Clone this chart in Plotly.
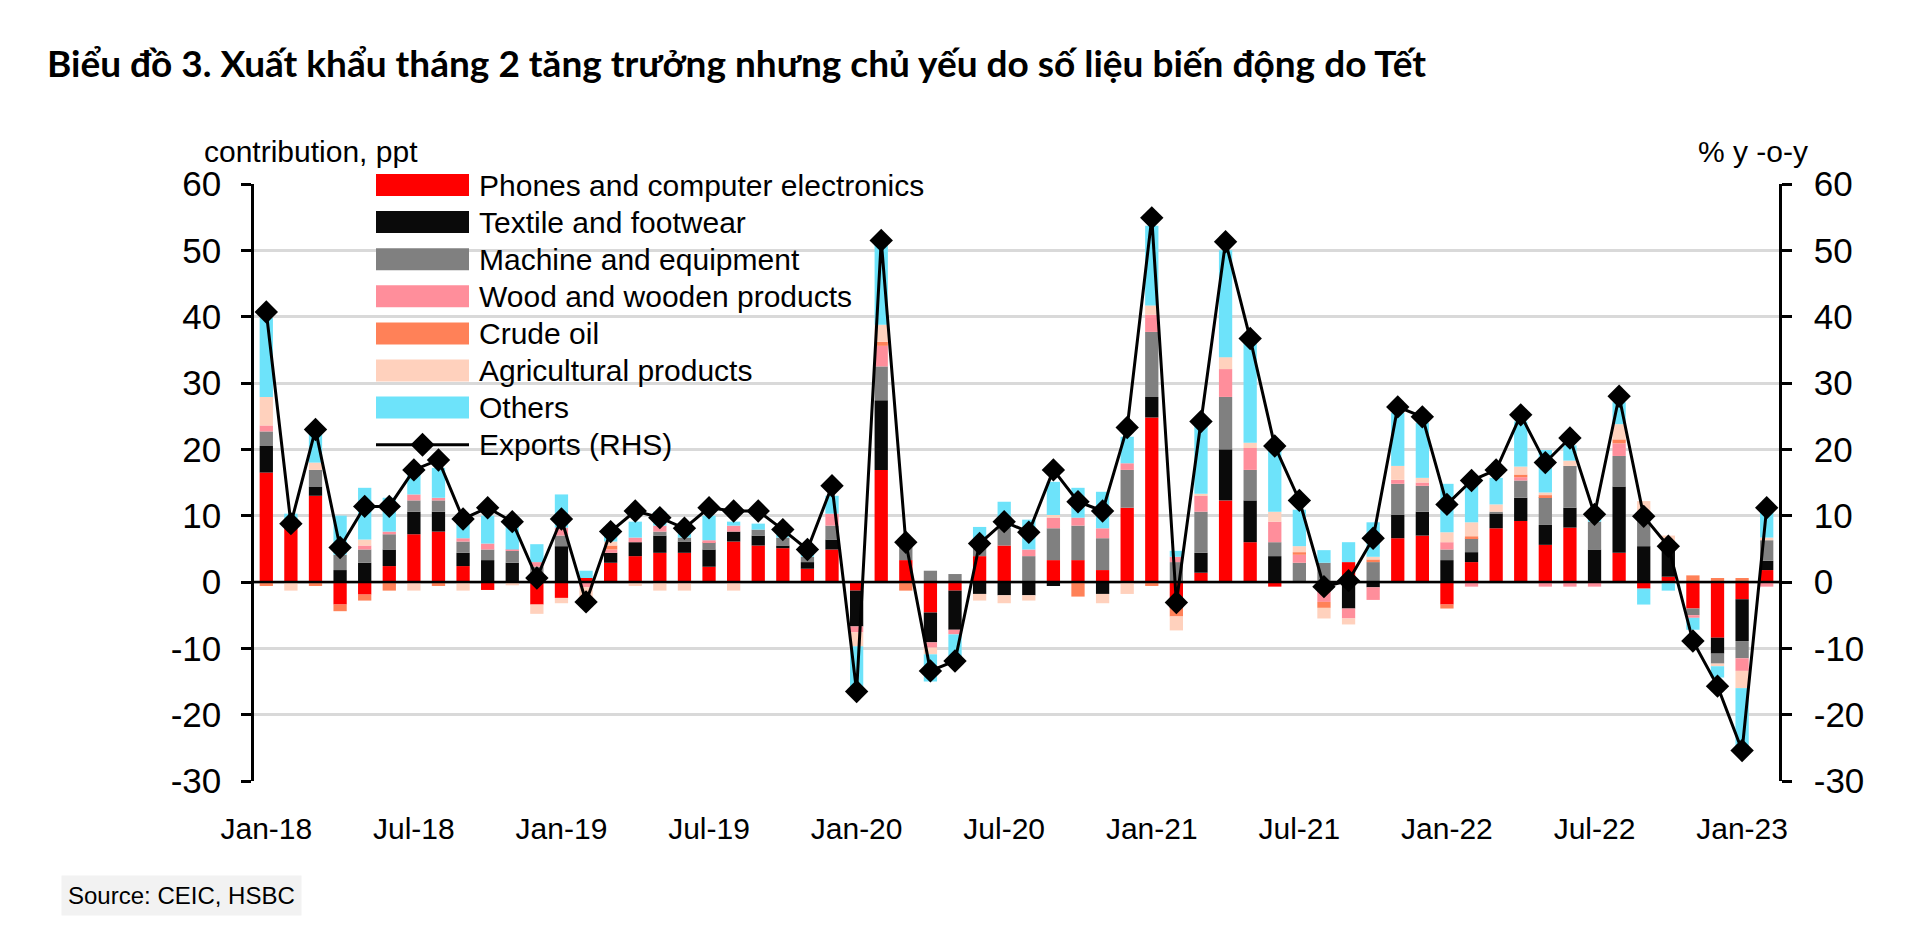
import plotly.graph_objects as go

months = ["Jan-18","Feb-18","Mar-18","Apr-18","May-18","Jun-18","Jul-18","Aug-18","Sep-18","Oct-18","Nov-18","Dec-18",
          "Jan-19","Feb-19","Mar-19","Apr-19","May-19","Jun-19","Jul-19","Aug-19","Sep-19","Oct-19","Nov-19","Dec-19",
          "Jan-20","Feb-20","Mar-20","Apr-20","May-20","Jun-20","Jul-20","Aug-20","Sep-20","Oct-20","Nov-20","Dec-20",
          "Jan-21","Feb-21","Mar-21","Apr-21","May-21","Jun-21","Jul-21","Aug-21","Sep-21","Oct-21","Nov-21","Dec-21",
          "Jan-22","Feb-22","Mar-22","Apr-22","May-22","Jun-22","Jul-22","Aug-22","Sep-22","Oct-22","Nov-22","Dec-22",
          "Jan-23","Feb-23"]

tick_labels = ["Jan-18","Jul-18","Jan-19","Jul-19","Jan-20","Jul-20","Jan-21","Jul-21","Jan-22","Jul-22","Jan-23"]
y_tick_vals = [-30, -20, -10, 0, 10, 20, 30, 40, 50, 60]
y_tick_text = ["-30", "-20", "-10", "0", "10", "20", "30", "40", "50", "60"]

phones = [16.5, 8.5, 13.0, -3.4, -1.9, 2.4, 7.2, 7.6, 2.4, -1.2, 0, -3.4,
          -2.4, 0.6, 2.9, 3.9, 4.4, 4.4, 2.3, 6.1, 5.5, 5.1, 2.0, 4.9,
          -1.3, 16.9, 3.3, -4.6, -1.3, 3.9, 5.5, 0, 3.3, 3.3, 1.8, 11.2,
          24.8, -4.0, 1.4, 12.3, 6.0, -0.7, 0, 0, 3.0, 0, 6.6, 7.0,
          -3.4, 3.0, 8.1, 9.2, 5.6, 8.2, 0, 4.4, -1.0, 0.8, -4.0, -8.4,
          -2.6, 1.8]

textile = [4.0, 0, 1.4, 1.8, 2.9, 2.5, 3.4, 3.0, 2.0, 3.3, 2.9, 0.8,
           5.4, 0, 1.5, 2.1, 2.6, 1.7, 2.6, 1.5, 1.5, 0.4, 1.0, 1.5,
           -5.4, 10.5, 0, -4.5, -5.9, -1.8, -2.0, -2.0, -0.6, 0, -1.8, 0,
           3.1, 0, 3.0, 7.7, 6.3, 3.9, 0, 0, -4.0, -0.8, 3.5, 3.6,
           3.3, 1.5, 2.2, 3.5, 3.0, 3.0, 4.9, 10.0, 5.4, 4.6, 0, -2.4,
           -6.3, 1.4]

machine = [2.2, 0, 2.5, 2.3, 2.0, 2.3, 1.7, 1.7, 1.7, 1.6, 1.8, 1.5,
           1.6, 0, 0, 0, 0.6, 0.6, 1.1, 0, 0.9, 1.2, 0.8, 2.1,
           0, 5.1, 2.5, 1.7, 1.2, 1.3, 2.7, 3.9, 4.8, 5.2, 4.8, 5.7,
           9.8, 3.0, 6.2, 7.9, 4.6, 2.1, 2.9, 2.9, 0, 3.0, 4.7, 3.9,
           1.6, 2.1, 0.3, 2.6, 4.2, 6.3, 4.2, 4.6, 4.0, 0, -1.0, -1.5,
           -2.6, 3.1]

wood = [0.9, 0, 0, 0, 0.6, 0.4, 0.9, 0.4, 0.5, 0.9, 0.2, 0.7,
        1.2, -0.8, 0.5, 0.7, 0.9, 0, 0.3, 0.9, 0, 0, 0, 1.8,
        -0.9, 3.1, 0, -0.8, -0.7, 0, 0, 1.0, 1.6, 1.2, 1.5, 1.0,
        2.6, 0.8, 2.4, 4.2, 3.3, 3.1, 1.2, -3.0, -1.5, -1.9, 0.6, 0.5,
        1.1, -0.7, 0, 0.5, -0.7, -0.7, -0.7, 1.9, 0.4, 0, -0.4, 0,
        -1.9, -0.7]

crude = [-0.6, 0, -0.6, -1.0, -0.9, -1.3, 0, -0.6, 0, 0, 0, 0,
         0, 0, 0.6, 0, 0, 0, 0, 0, 0, 0, 0, 0,
         0, 0.6, -1.3, 0, 0, 0, 0, 0, 0, -2.2, 0, 0,
         -0.6, -1.2, 0, 0, 0, 0, 0.4, -0.9, 0, 0.4, 0, 0,
         -0.6, 0.3, 0, 0.4, 0.3, 0, 0, 0.6, 0, 0, 1.0, 0.6,
         0.6, 0]

agri = [4.3, -1.3, 1.1, 0, 0.9, 0, -1.3, 0, -1.3, 0, -0.5, -1.4,
        -0.8, -2.5, 0.6, -0.6, -1.3, -1.3, 0, -1.3, 0, 0, 0, 0,
        -2.1, 2.6, 0, -1.0, 0, -1.0, -1.2, -0.8, 0.4, 0, -1.4, -1.8,
        1.4, -2.1, 0.3, 1.8, 0.8, 1.5, 0.9, -1.6, -0.9, 0.4, 2.1, 0.7,
        1.5, 2.1, 1.1, 1.2, 0.4, 0.8, 0, 2.3, 2.4, 1.6, 0, -0.4,
        -2.6, 0.4]

others = [11.9, 1.8, 4.5, 5.9, 7.8, 5.1, 3.4, 4.5, 3.1, 4.2, 3.9, 2.7,
          5.0, 1.1, 1.5, 2.4, 2.1, 0.6, 3.7, 0.6, 0.9, 0.5, 0.6, 2.7,
          -6.2, 12.0, 0.9, -4.1, -3.5, 3.1, 3.9, 4.5, 5.0, 4.5, 5.5, 4.0,
          12.0, 0.9, 10.7, 16.1, 15.3, 10.0, 5.5, 1.9, 3.0, 5.2, 8.0, 8.3,
          7.3, 6.4, 4.0, 6.8, 6.4, 2.3, 0.9, 3.3, -2.4, -1.3, -1.8, -1.7,
          -9.0, 4.2]

exports = [40.7, 8.8, 23.0, 5.2, 11.4, 11.4, 16.9, 18.4, 9.5, 11.2, 9.1, 0.6,
           9.5, -3.0, 7.6, 10.7, 9.7, 8.1, 11.2, 10.7, 10.7, 7.9, 4.9, 14.5,
           -16.5, 51.5, 6.0, -13.4, -11.9, 5.8, 9.1, 7.5, 16.9, 12.1, 10.7, 23.3,
           54.9, -3.1, 24.2, 51.3, 36.7, 20.5, 12.3, -0.7, 0.2, 6.6, 26.4, 24.9,
           11.7, 15.3, 16.9, 25.2, 18.0, 21.7, 10.2, 28.0, 9.9, 5.4, -8.9, -15.7,
           -25.4, 11.2]

series_names = ["Phones and computer electronics", "Textile and footwear", "Machine and equipment",
                "Wood and wooden products", "Crude oil", "Agricultural products", "Others"]
series_values = [phones, textile, machine, wood, crude, agri, others]
series_colors = ["#FF0000", "#0A0A0A", "#808080", "#FF8E9B", "#FF8158", "#FFD1BD", "#6DE3FA"]
line_name = "Exports (RHS)"

FONT = "Liberation Sans, Arial, sans-serif"

# plot area in (screenshot) pixels; the page body adds an 8px offset
OFF = 8
L, R, T, B = 254, 1779, 184, 781
W, H = 1920, 945


def px(x):
    return (x - L) / (R - L)


def py(y):
    return (B - y) / (B - T)


fig = go.Figure()
for name, vals, col in zip(series_names, series_values, series_colors):
    fig.add_trace(go.Bar(x=months, y=vals, name=name, marker=dict(color=col, line=dict(width=0)),
                         showlegend=False))

fig.add_trace(go.Scatter(x=months, y=exports, name=line_name, yaxis="y2", mode="lines+markers",
                         line=dict(color="black", width=3),
                         marker=dict(symbol="diamond", size=18, color="black"),
                         showlegend=False))

# custom legend (wide swatches as in the reference)
shapes = []
annotations = []
row_y0 = 185
row_dy = 37.1
sw_x0, sw_x1 = 376, 469
for i, (name, col) in enumerate(zip(series_names, series_colors)):
    cy = row_y0 + i * row_dy
    shapes.append(dict(type="rect", xref="paper", yref="paper",
                       x0=px(sw_x0), x1=px(sw_x1), y0=py(cy + 11), y1=py(cy - 11),
                       fillcolor=col, line=dict(width=0), layer="above"))
    annotations.append(dict(x=px(477), y=py(cy), xref="paper", yref="paper", text=name,
                            showarrow=False, xanchor="left", yanchor="middle",
                            font=dict(family=FONT, size=30, color="black")))
cy = row_y0 + 7 * row_dy
shapes.append(dict(type="line", xref="paper", yref="paper", x0=px(sw_x0), x1=px(sw_x1),
                   y0=py(cy), y1=py(cy), line=dict(color="black", width=3), layer="above"))
cx, d = (sw_x0 + sw_x1) / 2, 12
path = "M {},{} L {},{} L {},{} L {},{} Z".format(px(cx - d), py(cy), px(cx), py(cy - d),
                                                 px(cx + d), py(cy), px(cx), py(cy + d))
shapes.append(dict(type="path", xref="paper", yref="paper", path=path,
                   fillcolor="black", line=dict(width=0), layer="above"))
annotations.append(dict(x=px(477), y=py(cy), xref="paper", yref="paper", text=line_name,
                        showarrow=False, xanchor="left", yanchor="middle",
                        font=dict(family=FONT, size=30, color="black")))

# axis titles
annotations.append(dict(x=px(202), y=py(151), xref="paper", yref="paper", text="contribution, ppt",
                        showarrow=False, xanchor="left", yanchor="middle",
                        font=dict(family=FONT, size=30, color="black")))
annotations.append(dict(x=px(1810), y=py(151), xref="paper", yref="paper", text="% y -o-y",
                        showarrow=False, xanchor="right", yanchor="middle",
                        font=dict(family=FONT, size=30, color="black")))
# source
annotations.append(dict(x=px(61), y=py(895), xref="paper", yref="paper", text="Source: CEIC, HSBC",
                        showarrow=False, xanchor="left", yanchor="middle", bgcolor="#F2F2F2",
                        borderpad=6, font=dict(family=FONT, size=24, color="black")))

yax = dict(range=[-30, 60], tickmode="array", tickvals=y_tick_vals, ticktext=y_tick_text,
           ticks="outside", ticklen=10, tickwidth=2.5,
           tickcolor="black", showline=True, linewidth=2.5, linecolor="black",
           tickfont=dict(family=FONT, size=35, color="black"), zeroline=False)

fig.update_layout(
    width=W, height=H,
    margin=dict(l=L - OFF, r=W - (R - OFF), t=T - OFF, b=H - (B - OFF), pad=0),
    paper_bgcolor="white", plot_bgcolor="white",
    barmode="relative", bargap=0.46,
    title=dict(text="<b>Biểu đồ 3. Xuất khẩu tháng 2 tăng trưởng nhưng chủ yếu do số liệu biến động do Tết</b>",
               x=(47 - OFF) / W, xanchor="left", xref="container", y=1 - (64 - OFF) / H, yanchor="middle",
               yref="container",
               font=dict(family="Lato, Open Sans, sans-serif", size=37, color="black")),
    xaxis=dict(type="category", range=[-0.5, len(months) - 0.5], tickmode="array",
               tickvals=tick_labels, ticktext=tick_labels, ticks="", showline=False, showgrid=False,
               tickfont=dict(family=FONT, size=30, color="black"), ticklabelstandoff=27),
    yaxis=dict(showgrid=True, gridcolor="#D9D9D9", gridwidth=2.5, side="left",
               ticklabelstandoff=13, **yax),
    yaxis2=dict(overlaying="y", side="right", showgrid=False, ticklabelstandoff=15, **yax),
    shapes=shapes + [dict(type="line", xref="paper", yref="y", x0=0, x1=1, y0=0, y1=0,
                          line=dict(color="black", width=2.5), layer="above")],
    annotations=annotations,
    showlegend=False,
)

fig.write_html("out.html")
